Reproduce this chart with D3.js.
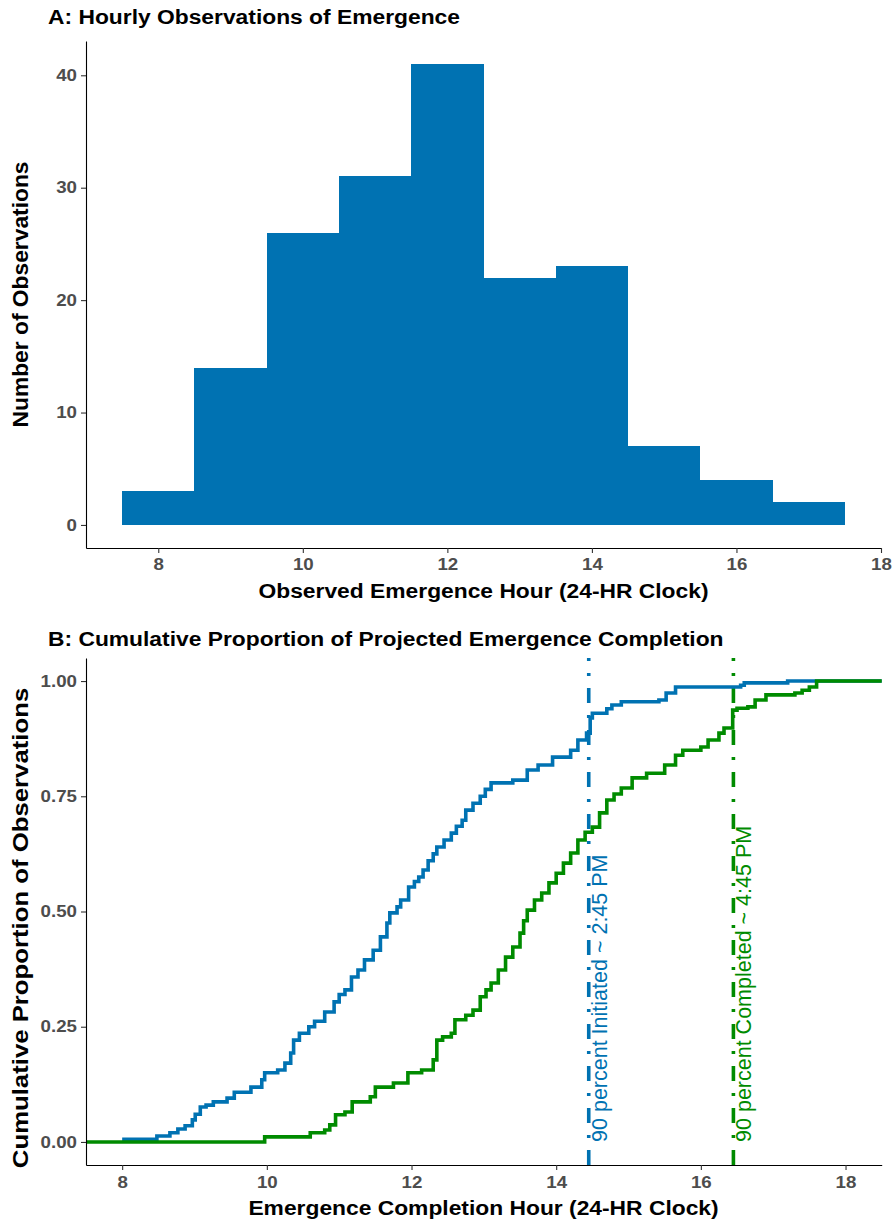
<!DOCTYPE html>
<html><head><meta charset="utf-8">
<script src="https://cdn.jsdelivr.net/npm/d3@7"></script>
<style>body{margin:0;background:#fff} svg{display:block}</style>
</head><body><svg id="c" width="896" height="1224"></svg>
<script>
// ---------- data ----------
const binCenters = [8, 9, 10, 11, 12, 13, 14, 15, 16, 17];
const binCounts  = [3, 14, 26, 31, 41, 22, 23, 7, 4, 2];
const histXTicks = [8, 10, 12, 14, 16, 18];
const histYTicks = [0, 10, 20, 30, 40];

const initHours = [8.00, 8.48, 8.66, 8.77, 8.87, 8.97, 9.01, 9.08, 9.16, 9.26, 9.45, 9.55, 9.78, 9.93, 9.97, 10.15, 10.25, 10.33, 10.37, 10.45, 10.58, 10.66, 10.80, 10.93, 11.00, 11.08, 11.17, 11.26, 11.35, 11.47, 11.57, 11.66, 11.70, 11.80, 11.85, 11.96, 12.04, 12.10, 12.16, 12.23, 12.30, 12.35, 12.45, 12.55, 12.62, 12.70, 12.75, 12.85, 12.95, 13.02, 13.10, 13.40, 13.60, 13.75, 13.95, 14.20, 14.30, 14.42, 14.47, 14.50, 14.70, 14.77, 14.90, 15.42, 15.52, 15.65, 16.55, 16.60, 17.20, 18.50];
const initProp  = [0.006, 0.013, 0.020, 0.028, 0.035, 0.048, 0.060, 0.076, 0.080, 0.087, 0.095, 0.108, 0.119, 0.135, 0.150, 0.156, 0.171, 0.193, 0.221, 0.236, 0.250, 0.262, 0.282, 0.304, 0.320, 0.330, 0.358, 0.373, 0.395, 0.416, 0.445, 0.475, 0.497, 0.510, 0.525, 0.553, 0.565, 0.575, 0.590, 0.610, 0.625, 0.640, 0.655, 0.670, 0.685, 0.698, 0.720, 0.735, 0.750, 0.765, 0.779, 0.785, 0.807, 0.818, 0.835, 0.850, 0.872, 0.887, 0.920, 0.930, 0.940, 0.948, 0.955, 0.959, 0.974, 0.987, 0.991, 0.996, 1.000, 1.000];

const compHours = [7.50, 9.97, 10.60, 10.80, 10.87, 10.95, 11.08, 11.18, 11.43, 11.50, 11.75, 11.95, 12.14, 12.30, 12.35, 12.43, 12.55, 12.60, 12.75, 12.85, 12.95, 13.03, 13.10, 13.20, 13.30, 13.40, 13.50, 13.55, 13.60, 13.70, 13.80, 13.90, 14.00, 14.10, 14.20, 14.30, 14.40, 14.50, 14.60, 14.70, 14.80, 14.90, 15.05, 15.25, 15.50, 15.65, 15.75, 16.00, 16.10, 16.25, 16.32, 16.44, 16.50, 16.65, 16.75, 16.90, 17.30, 17.40, 17.50, 17.60, 18.50];
const compProp  = [0.000, 0.011, 0.020, 0.026, 0.037, 0.059, 0.065, 0.087, 0.098, 0.119, 0.128, 0.150, 0.156, 0.178, 0.221, 0.228, 0.236, 0.265, 0.275, 0.286, 0.315, 0.330, 0.345, 0.373, 0.401, 0.423, 0.453, 0.480, 0.503, 0.525, 0.540, 0.562, 0.583, 0.605, 0.627, 0.655, 0.672, 0.683, 0.714, 0.742, 0.755, 0.768, 0.790, 0.800, 0.818, 0.839, 0.850, 0.857, 0.872, 0.887, 0.898, 0.937, 0.941, 0.944, 0.959, 0.970, 0.974, 0.980, 0.987, 1.000, 1.000];

const cumXTicks = [8, 10, 12, 14, 16, 18];
const cumYTicks = [0, 0.25, 0.5, 0.75, 1];
const refHours  = [14.45, 16.45];
const refLabels = ["90 percent Initiated ~ 2:45 PM", "90 percent Completed ~ 4:45 PM"];

// ---------- style ----------
const BLUE = "#0072B2", GREEN = "#008B00";
const FONT = "'Liberation Sans', Arial, Helvetica, sans-serif";
const SX = 1.17;

const svg = d3.select("#c");

function label(x, y, s, o) {
  return svg.append("text")
    .attr("transform", `translate(${x},${y}) rotate(${o.rot || 0}) scale(${o.sx || 1},${o.sy || 1})`)
    .attr("font-family", FONT)
    .attr("font-size", o.size)
    .attr("font-weight", o.weight || "bold")
    .attr("fill", o.fill || "#000")
    .attr("text-anchor", o.anchor || "start")
    .text(s);
}

function styleAxis(g) {
  g.select(".domain").attr("stroke", "#000").attr("stroke-width", 1.1);
  g.selectAll(".tick line").attr("stroke", "#333").attr("stroke-width", 1.1);
  g.selectAll(".tick text")
    .attr("font-family", FONT).attr("font-size", 16).attr("font-weight", "bold")
    .attr("fill", "#4d4d4d")
    .each(function () {
      const t = d3.select(this);
      const x = +t.attr("x") || 0;
      const y = +t.attr("y") || 0;
      t.attr("x", 0).attr("y", 0).attr("transform", `translate(${x},${y}) scale(${SX},1)`);
    });
}

// ---------- Panel A ----------
const xA = d3.scaleLinear().domain([7, 18]).range([86, 881]);
const yA = d3.scaleLinear().domain([-2.05, 43.05]).range([548, 41]);

svg.append("g").selectAll("rect").data(binCenters).join("rect")
  .attr("x", (d) => xA(d - 0.5))
  .attr("width", (d) => xA(d + 0.5) - xA(d - 0.5))
  .attr("y", (d, i) => yA(binCounts[i]))
  .attr("height", (d, i) => yA(0) - yA(binCounts[i]))
  .attr("fill", BLUE)
  .attr("shape-rendering", "crispEdges");

const ayA = svg.append("g").attr("transform", "translate(86,0)")
  .call(d3.axisLeft(yA).tickValues(histYTicks).tickSize(5).tickPadding(4).tickSizeOuter(0));
styleAxis(ayA);
const axA = svg.append("g").attr("transform", "translate(0,548)")
  .call(d3.axisBottom(xA).tickValues(histXTicks).tickSize(5).tickPadding(6).tickSizeOuter(0));
styleAxis(axA);

label(48, 24, "A: Hourly Observations of Emergence", { size: 19.5, sx: SX });
label(483.5, 598, "Observed Emergence Hour (24-HR Clock)", { size: 19.5, sx: SX, anchor: "middle" });
label(28, 294.5, "Number of Observations", { size: 19.5, rot: -90, sx: SX, sy: SX, anchor: "middle" });

// ---------- Panel B ----------
const xB = d3.scaleLinear().domain([7.5, 18.5]).range([86, 881.7]);
const yB = d3.scaleLinear().domain([-0.05, 1.05]).range([1165, 658]);

const stepLine = d3.line().curve(d3.curveStepAfter);
const initPts = initHours.map((h, i) => [xB(h), yB(initProp[i])]);
const compPts = compHours.map((h, i) => [xB(h), yB(compProp[i])]);

refHours.forEach((h, i) => {
  svg.append("path")
    .attr("d", d3.line()([[xB(h), yB.range()[0]], [xB(h), yB.range()[1]]]))
    .attr("stroke", i === 0 ? BLUE : GREEN)
    .attr("stroke-width", 3.6)
    .attr("stroke-dasharray", "15,12,3,12")
    .attr("fill", "none");
});

svg.append("path").attr("d", stepLine(initPts))
  .attr("fill", "none").attr("stroke", BLUE).attr("stroke-width", 3.6);
svg.append("path").attr("d", stepLine(compPts))
  .attr("fill", "none").attr("stroke", GREEN).attr("stroke-width", 3.6);

refHours.forEach((h, i) => {
  label(xB(h) + 18, yB(0), refLabels[i], { size: 21.5, weight: "normal", rot: -90,
    fill: i === 0 ? BLUE : GREEN });
});

const ayB = svg.append("g").attr("transform", "translate(86,0)")
  .call(d3.axisLeft(yB).tickValues(cumYTicks).tickFormat(d3.format(".2f")).tickSize(5).tickPadding(4).tickSizeOuter(0));
styleAxis(ayB);
const axB = svg.append("g").attr("transform", "translate(0,1165)")
  .call(d3.axisBottom(xB).tickValues(cumXTicks).tickSize(5).tickPadding(7).tickSizeOuter(0));
styleAxis(axB);

label(48, 646, "B: Cumulative Proportion of Projected Emergence Completion", { size: 19.5, sx: SX });
label(483.5, 1215, "Emergence Completion Hour (24-HR Clock)", { size: 19.5, sx: SX, anchor: "middle" });
label(28, 928, "Cumulative Proportion of Observations", { size: 19.5, rot: -90, sx: 1.32, sy: SX, anchor: "middle" });
</script>
</body></html>
